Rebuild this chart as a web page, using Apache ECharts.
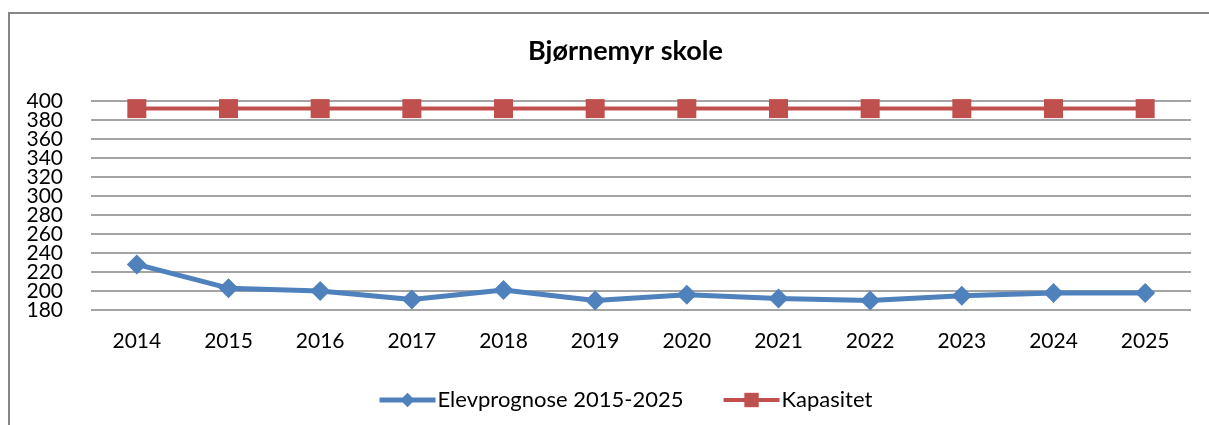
<!DOCTYPE html>
<html><head><meta charset="utf-8">
<script src="https://cdn.jsdelivr.net/npm/echarts@6/dist/echarts.min.js"></script>
<style>html,body{margin:0;padding:0;background:#fff}#c{width:1209px;height:425px}</style>
</head><body><div id="c"></div>
<script>
const titleText = "Bjørnemyr skole";
const categories = ["2014","2015","2016","2017","2018","2019","2020","2021","2022","2023","2024","2025"];
const elevprognose = [228,203,200,191,201,190,196,192,190,195,198,198];
const kapasitet = [392,392,392,392,392,392,392,392,392,392,392,392];
const seriesNames = ["Elevprognose 2015-2025","Kapasitet"];
const yMin = 180, yMax = 400, yStep = 20;

const font = "Lato, 'Open Sans', sans-serif";
const labelStyle = {fontFamily:font,fontSize:21,color:'#000',margin:28,showMinLabel:true,showMaxLabel:true};
function makeY(parity, showGrid){
  return {type:'value',min:yMin,max:yMax,interval:yStep,position:'left',
    axisLine:{show:false},axisTick:{show:false},
    axisLabel:Object.assign({},labelStyle,{formatter:v=>(Math.round((v-yMin)/yStep)%2===parity)?String(v):''}),
    splitLine:{show:showGrid,lineStyle:{color:'#868686',width:1.5}}};
}
const chart = echarts.init(document.getElementById('c'), null, {renderer:'canvas'});
chart.setOption({
  animation:false,
  backgroundColor:'#fff',
  graphic:[{type:'rect',shape:{x:9,y:13,width:1300,height:500},style:{fill:'none',stroke:'#868686',lineWidth:2},silent:true}],
  title:{text:titleText,left:523,top:33,textStyle:{fontFamily:font,fontWeight:'bold',fontSize:27,color:'#000'}},
  grid:{left:91,right:18,top:101,bottom:115,containLabel:false},
  legend:{top:384,left:372,itemGap:38,itemWidth:56,itemHeight:18,
    textStyle:{fontFamily:font,fontSize:22,color:'#000',padding:[0,0,0,-3]},
    data:[{name:seriesNames[0],lineStyle:{width:5}},{name:seriesNames[1],lineStyle:{width:4}}]},
  xAxis:{type:'category',data:categories,boundaryGap:true,
    axisLine:{show:false},axisTick:{show:false},
    axisLabel:{fontFamily:font,fontSize:21,color:'#000',margin:21}},
  yAxis:[makeY(0,true), makeY(1,false)],
  series:[
    {name:seriesNames[0],type:'line',data:elevprognose,symbol:'diamond',symbolSize:20,
      lineStyle:{color:'#4F81BD',width:5},itemStyle:{color:'#4F81BD'}},
    {name:seriesNames[1],type:'line',data:kapasitet,symbol:'rect',symbolSize:19,
      lineStyle:{color:'#C0504D',width:4},itemStyle:{color:'#C0504D'}}
  ]
});
</script></body></html>
